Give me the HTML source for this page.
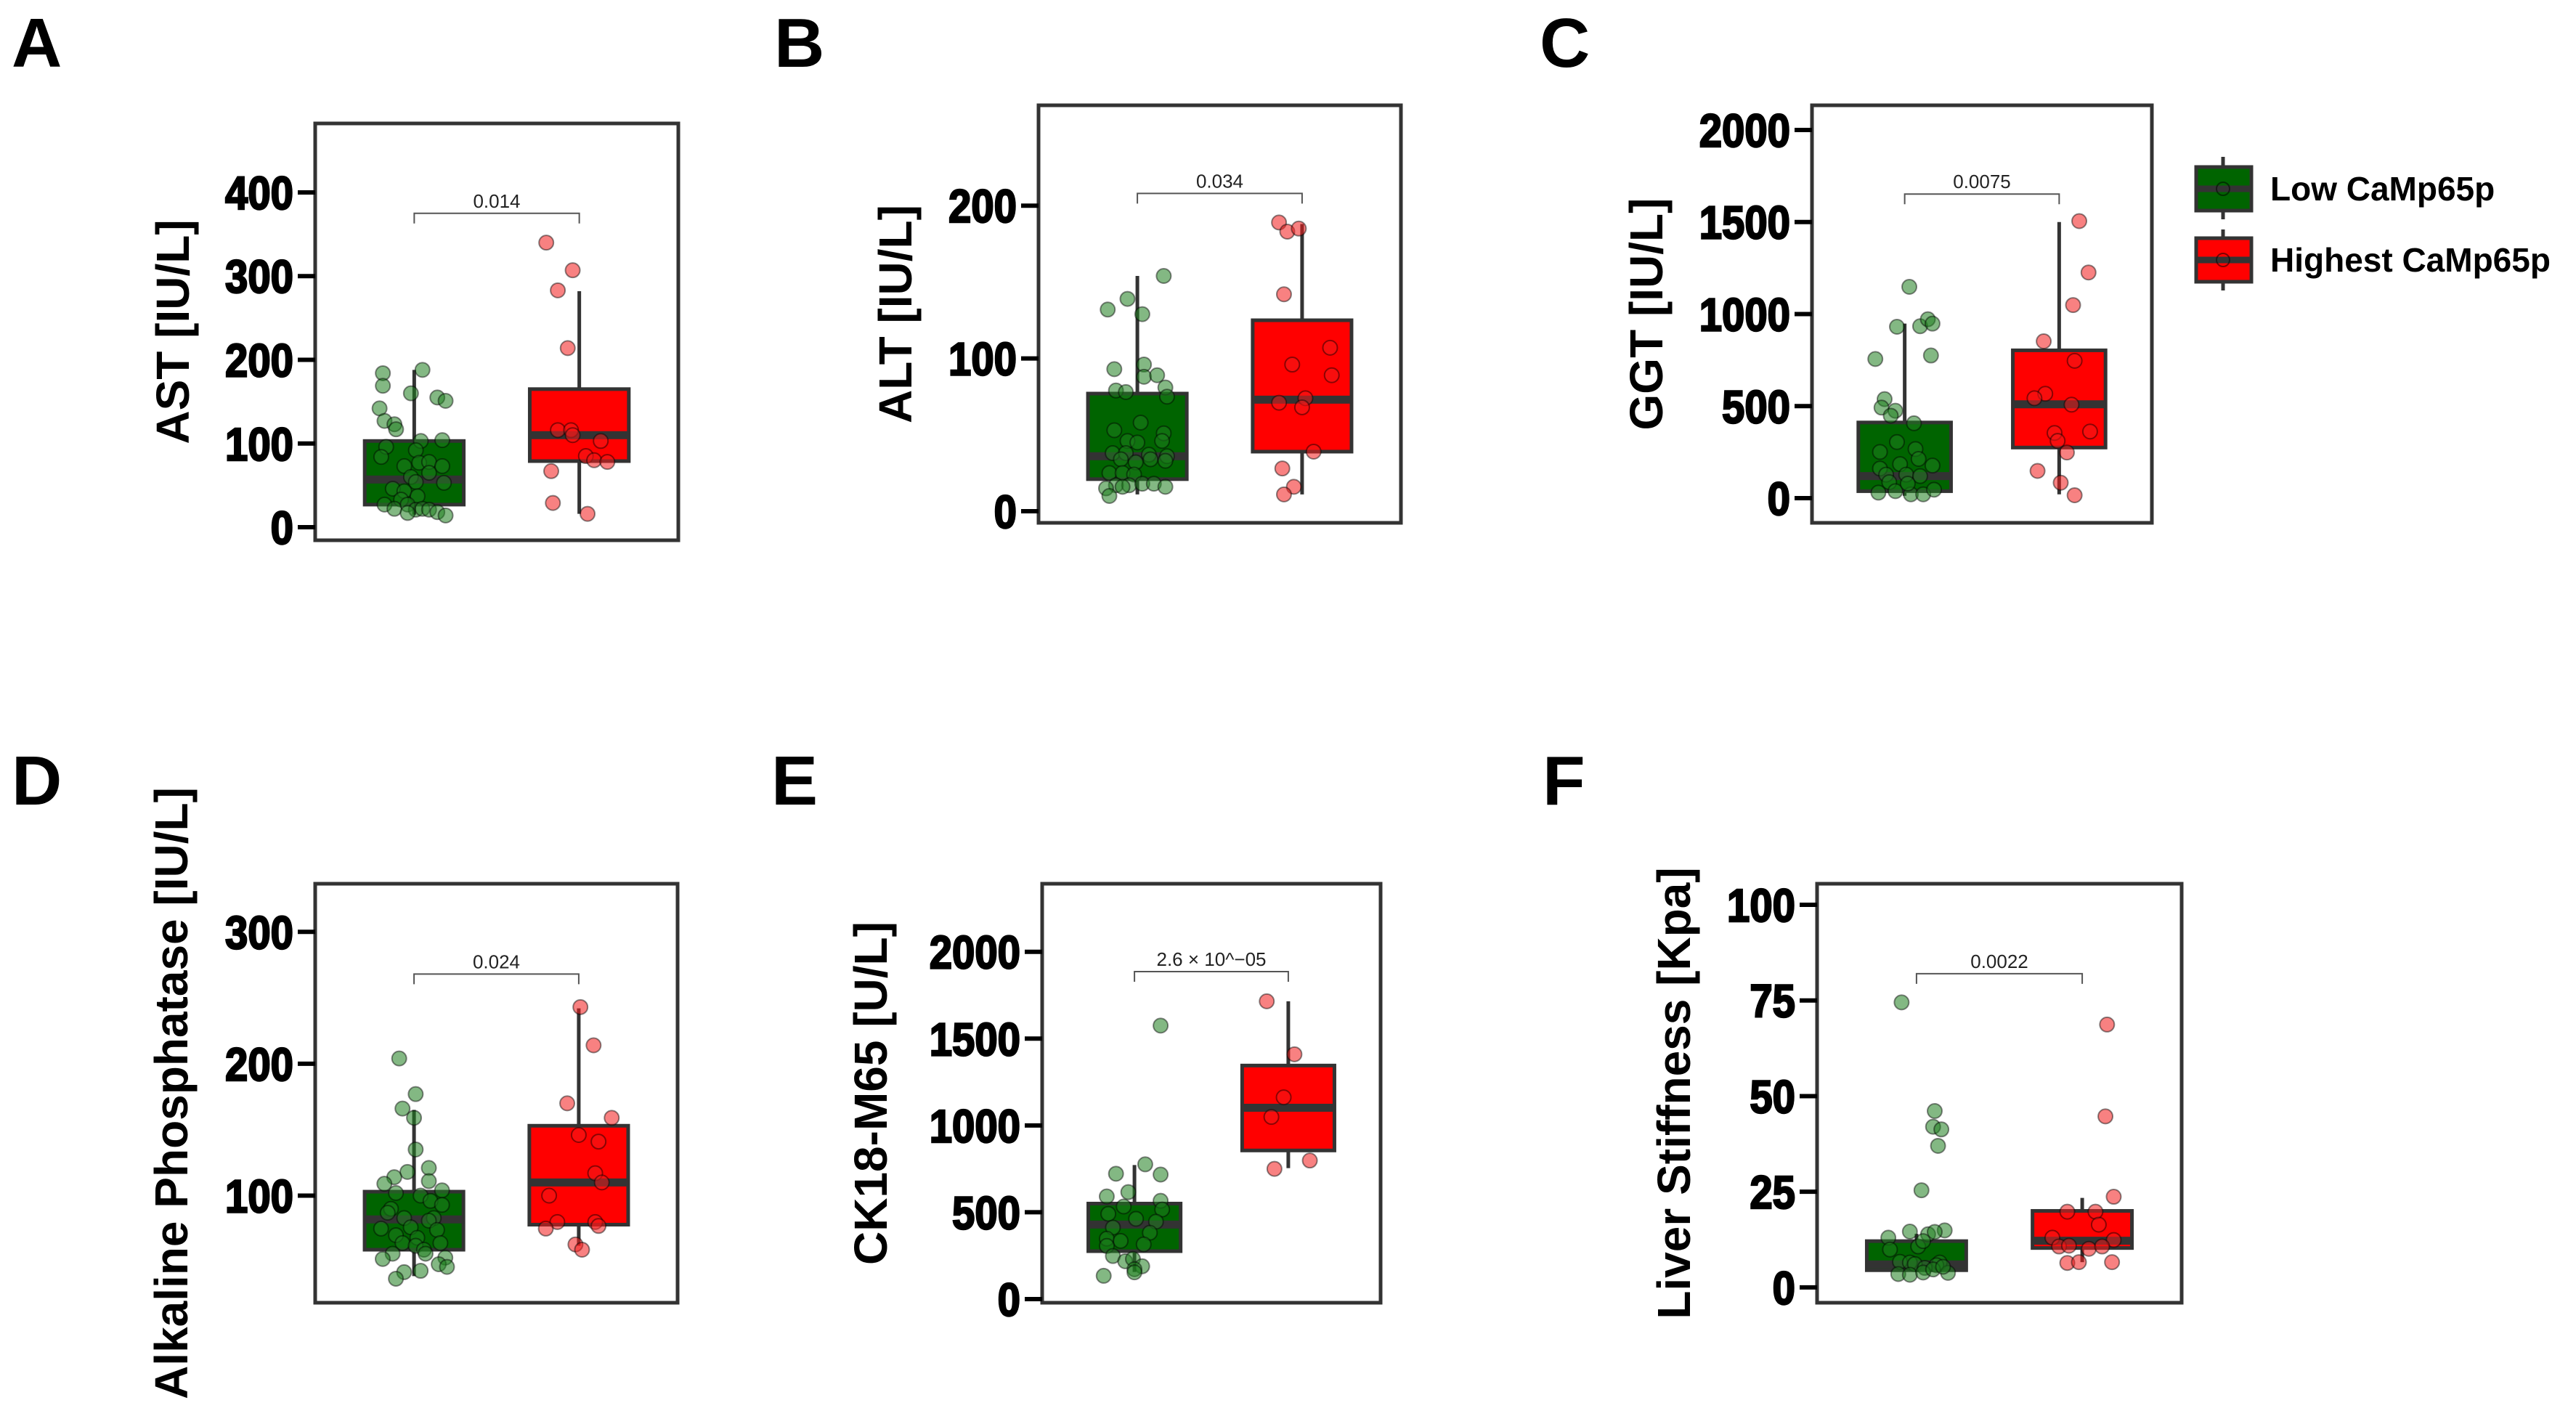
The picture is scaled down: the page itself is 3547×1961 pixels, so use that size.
<!DOCTYPE html>
<html><head><meta charset="utf-8"><style>
html,body{margin:0;padding:0;background:#fff;}
svg{display:block;font-family:"Liberation Sans",Arial,sans-serif;}
</style></head><body>
<svg id="fig" width="3547" height="1961" viewBox="0 0 3547 1961" xmlns="http://www.w3.org/2000/svg">
<rect width="3547" height="1961" fill="#fff"/>
<g>
  <g>
    <line x1="3061" y1="216" x2="3061" y2="302" stroke="#333" stroke-width="5"/>
    <rect x="3024" y="230" width="76" height="60" fill="#006400" stroke="#333" stroke-width="5"/>
    <line x1="3024" y1="260" x2="3100" y2="260" stroke="#333" stroke-width="9"/>
    <circle cx="3061" cy="260" r="9" fill="none" stroke="#000" stroke-opacity="0.5" stroke-width="2"/>
    <text x="3126" y="276" font-size="46" font-weight="bold" fill="#000">Low CaMp65p</text>
  </g>
  <g>
    <line x1="3061" y1="316" x2="3061" y2="400" stroke="#333" stroke-width="5"/>
    <rect x="3024" y="328" width="76" height="60" fill="#ff0000" stroke="#333" stroke-width="5"/>
    <line x1="3024" y1="358" x2="3100" y2="358" stroke="#333" stroke-width="9"/>
    <circle cx="3061" cy="358" r="9" fill="none" stroke="#000" stroke-opacity="0.5" stroke-width="2"/>
    <text x="3126" y="374" font-size="46" font-weight="bold" fill="#000">Highest CaMp65p</text>
  </g>
</g>
</svg>
<script>
const categories = ["Low CaMp65p", "Highest CaMp65p"];

// Panel A: AST
const astTicks = [0, 100, 200, 300, 400];
const astLowValues = [184,188,169,160,155,151,142,127,123,117,103,104,96,84,92,73,77,78,73,65,60,54,53,46,43,37,33,27,22,27,21,22,21,17,18,14];
const astLowJitter = [-0.19,0.05,-0.19,-0.02,0.14,0.19,-0.21,-0.18,-0.12,-0.11,0.04,0.17,-0.17,-0.2,0.01,-0.06,0.03,0.09,0.17,0.09,-0.02,0.01,0.18,-0.13,-0.06,0.02,-0.08,-0.18,-0.12,-0.04,0.01,0.05,0.09,-0.04,0.14,0.19];
const astHighValues = [340,307,283,214,116,116,110,103,85,80,78,67,29,16];
const astHighJitter = [-0.2,-0.04,-0.13,-0.07,-0.13,-0.05,-0.04,0.13,0.04,0.09,0.17,-0.17,-0.16,0.05];
const astLowStats = [27,57,103,15,188];
const astHighStats = [79,110,165,16,282];
const astPValue = "0.014";
const astBracket = 375;

// Panel B: ALT
const altTicks = [0, 100, 200];
const altLowValues = [154,139,132,129,96,93,88,89,79,78,81,75,58,53,51,46,45,46,38,38,37,36,34,32,34,33,25,25,24,17,17,18,18,16,15,10,16];
const altLowJitter = [0.16,-0.06,-0.18,0.03,0.04,-0.14,0.04,0.12,-0.13,-0.07,0.17,0.18,0.02,-0.14,0.16,-0.06,0,0.15,-0.15,-0.07,0.07,0.18,-0.1,-0.01,0.08,0.17,-0.17,-0.09,-0.02,-0.13,-0.05,0.03,0.1,0.17,-0.19,-0.17,-0.09];
const altHighValues = [189,183,185,142,107,96,89,74,71,68,39,28,16,11];
const altHighJitter = [-0.14,-0.09,-0.02,-0.11,0.17,-0.06,0.18,0.02,-0.14,0,0.07,-0.12,-0.05,-0.11];
const altLowStats = [21,36,77,11,154];
const altHighStats = [39,73,125,11,188];
const altPValue = "0.034";
const altBracket = 208;

// Panel C: GGT
const ggtTicks = [0, 500, 1000, 1500, 2000];
const ggtLowValues = [1148,931,934,972,948,756,775,538,492,475,448,407,305,251,267,213,185,177,161,128,128,120,87,30,38,21,21,46,79];
const ggtLowJitter = [0.03,-0.05,0.1,0.15,0.18,-0.19,0.17,-0.13,-0.15,-0.06,-0.09,0.06,-0.05,-0.16,0.07,0.09,-0.03,0.18,-0.16,-0.12,0.01,0.1,-0.1,-0.17,-0.06,0.04,0.12,0.19,0.02];
const ggtHighValues = [1505,1226,1049,852,746,567,543,508,362,354,311,248,148,84,16];
const ggtHighJitter = [0.13,0.19,0.09,-0.1,0.1,-0.09,-0.16,0.08,0.2,-0.03,-0.01,0.05,-0.14,0.01,0.1];
const ggtLowStats = [38,120,411,13,948];
const ggtHighStats = [275,510,803,21,1500];
const ggtPValue = "0.0075";
const ggtBracket = 1652;

// Panel D: Alkaline Phosphatase
const alpTicks = [100, 200, 300];
const alpLowValues = [204,177,166,159,135,121,118,114,111,109,104,102,100,96,93,90,87,83,83,81,76,75,74,70,68,64,64,62,59,56,56,52,53,48,46,42,43,37];
const alpLowJitter = [-0.09,0.01,-0.07,0,0.01,0.09,-0.04,-0.12,0.09,-0.18,0.17,-0.11,0.04,0.1,0.17,-0.14,-0.16,-0.06,0.12,0.09,-0.02,-0.2,0.14,-0.11,0.02,-0.07,0.16,0.01,0.06,0.07,-0.13,-0.19,0.19,0.15,0.2,-0.06,0.04,-0.11];
const alpHighValues = [243,214,170,159,146,141,117,110,100,80,80,77,75,63,59];
const alpHighJitter = [0.01,0.09,-0.07,0.2,0,0.12,0.1,0.14,-0.18,-0.13,0.1,0.12,-0.2,-0.02,0.02];
const alpLowStats = [59,82,103,39,165];
const alpHighStats = [78,110,153,62,242];
const alpPValue = "0.024";
const alpBracket = 268;

// Panel E: CK18-M65
const ckTicks = [0, 500, 1000, 1500, 2000];
const ckLowValues = [1575,776,722,717,616,591,566,533,516,491,462,446,412,382,348,335,315,306,248,218,231,189,172,134,154];
const ckLowJitter = [0.17,0.07,-0.12,0.17,-0.04,-0.18,0.17,-0.07,0.18,-0.17,0.01,0.14,-0.14,0.1,-0.18,-0.09,0.06,-0.18,-0.14,-0.06,-0.01,0.05,0,-0.2,0];
const ckHighValues = [1715,1410,1162,1049,798,750];
const ckHighJitter = [-0.14,0.04,-0.03,-0.11,0.14,-0.09];
const ckLowStats = [276,429,550,156,772];
const ckHighStats = [856,1102,1345,754,1715];
const ckPValue = "2.6 \u00d7 10^\u221205";
const ckBracket = 1886;

// Panel F: Liver stiffness
const lsTicks = [0, 25, 50, 75, 100];
const lsLowValues = [74.5,46.1,42,41.3,37,25.4,14.6,14.9,13,13.9,14.5,10.7,9.9,12.1,6.7,6.5,6.1,6.5,5.8,5.1,3.5,3.3,3.9,3.8,4.7,5.4];
const lsLowJitter = [-0.09,0.11,0.1,0.15,0.13,0.03,-0.04,0.17,-0.17,0.07,0.11,0.01,-0.16,0.04,-0.1,-0.04,-0.01,0.14,0.12,0.05,-0.11,-0.04,0.04,0.19,0.1,0.16];
const lsHighValues = [68.7,44.7,23.7,19.8,19.8,16.4,13,12.4,10.7,10.9,10.1,10.7,6.4,6.6,6.6];
const lsHighJitter = [0.15,0.14,0.19,-0.09,0.08,0.1,-0.18,0.19,-0.14,-0.08,0.04,0.12,-0.09,-0.02,0.18];
const lsLowStats = [4.5,6,12.1,4,14];
const lsHighStats = [10.3,12.2,20,6.6,23.4];
const lsPValue = "0.0022";
const lsBracket = 82;

const NS = "http://www.w3.org/2000/svg";
const svg = document.getElementById("fig");
function mk(tag, attrs, parent) {
  const e = document.createElementNS(NS, tag);
  for (const k in attrs) e.setAttribute(k, attrs[k]);
  (parent || svg).appendChild(e);
  return e;
}

function drawPanel(p) {
  const g = mk("g", {});
  
  
  const L = p.box[0], R = p.box[1], T = p.box[2], B = p.box[3];
  const y = v => B - (v - p.domain[0]) / (p.domain[1] - p.domain[0]) * (B - T);
  const x = c => L + (c + 0.6) / 2.2 * (R - L);
  const bw = 0.6 / 2.2 * (R - L);
  const unit = (R - L) / 2.2;

  const letter = mk("text", {x: p.letter[1], y: p.letter[2], "font-size": 96, "font-weight": "bold", fill: "#000"}, g);
  letter.textContent = p.letter[0];
  
  

  const frame = mk("rect", {x: L, y: T, width: R - L, height: B - T, fill: "#fff", stroke: "#333", "stroke-width": 5}, g);
  
  

  p.ticks.forEach(t => {
    const ty = y(t);
    const tk = mk("line", {x1: L - 24, x2: L, y1: ty, y2: ty, stroke: "#000", "stroke-width": 6}, g);
    
    
    const tl = mk("text", {x: 0, y: 0, transform: "translate(" + (L - 30) + " " + (ty + 23) + ") scale(0.88 1)", "text-anchor": "end", "font-size": 64, "font-weight": "bold", fill: "#000", stroke: "#000", "stroke-width": 2.5}, g);
    tl.textContent = t;
    
    
  });

  const cy = (T + B) / 2;
  const title = mk("text", {x: p.titleX, y: cy, "text-anchor": "middle", "font-size": 64, "font-weight": "bold", fill: "#000", transform: "rotate(-90 " + p.titleX + " " + cy + ")", "dominant-baseline": "central"}, g);
  title.textContent = p.title;
  
  

  const fills = ["#006400", "#ff0000"];
  const ptFill = ["#1e7d1e", "#f21a1a"];
  const names = ["low", "highest"];
  [p.lowStats, p.highStats].forEach((s, i) => {
    const cx = x(i);
    const bg = mk("g", {}, g);
    
    
    mk("line", {x1: cx, x2: cx, y1: y(s[4]), y2: y(s[3]), stroke: "#333", "stroke-width": 5}, bg);
    mk("rect", {x: cx - bw / 2, y: y(s[2]), width: bw, height: y(s[0]) - y(s[2]), fill: fills[i], stroke: "#333", "stroke-width": 5}, bg);
    mk("line", {x1: cx - bw / 2, x2: cx + bw / 2, y1: y(s[1]), y2: y(s[1]), stroke: "#333", "stroke-width": 11}, bg);
  });
  [[p.lowValues, p.lowJitter], [p.highValues, p.highJitter]].forEach((d, i) => {
    d[0].forEach((v, k) => {
      const c = mk("circle", {cx: x(i) + d[1][k] * unit, cy: y(v), r: 10, fill: ptFill[i], "fill-opacity": 0.55, stroke: "#000", "stroke-opacity": 0.45, "stroke-width": 2}, g);
      
      
    });
  });

  const by = y(p.bracket);
  const br = mk("path", {d: "M" + x(0) + " " + (by + 14) + "V" + by + "H" + x(1) + "V" + (by + 14), fill: "none", stroke: "#555", "stroke-width": 2}, g);
  
  
  const pt = mk("text", {x: (x(0) + x(1)) / 2, y: by - 8, "text-anchor": "middle", "font-size": 26, fill: "#222"}, g);
  pt.textContent = p.pValue;
  
  
}

drawPanel({id: "a-ast", letter: ["A", 16, 92], box: [434, 934, 170, 744], domain: [-15.6, 482.4], titleX: 238, title: "AST [IU/L]",
  ticks: astTicks, lowValues: astLowValues, lowJitter: astLowJitter, highValues: astHighValues, highJitter: astHighJitter,
  lowStats: astLowStats, highStats: astHighStats, pValue: astPValue, bracket: astBracket});
drawPanel({id: "b-alt", letter: ["B", 1066, 92], box: [1430, 1929, 145, 720], domain: [-7.6, 265.7], titleX: 1233, title: "ALT [IU/L]",
  ticks: altTicks, lowValues: altLowValues, lowJitter: altLowJitter, highValues: altHighValues, highJitter: altHighJitter,
  lowStats: altLowStats, highStats: altHighStats, pValue: altPValue, bracket: altBracket});
drawPanel({id: "c-ggt", letter: ["C", 2120, 92], box: [2495, 2963, 145, 720], domain: [-134, 2134], titleX: 2267, title: "GGT [IU/L]",
  ticks: ggtTicks, lowValues: ggtLowValues, lowJitter: ggtLowJitter, highValues: ggtHighValues, highJitter: ggtHighJitter,
  lowStats: ggtLowStats, highStats: ggtHighStats, pValue: ggtPValue, bracket: ggtBracket});
drawPanel({id: "d-alp", letter: ["D", 16, 1108], box: [434, 933, 1217, 1794], domain: [18.8, 336.5], titleX: 236, title: "Alkaline Phosphatase [IU/L]",
  ticks: alpTicks, lowValues: alpLowValues, lowJitter: alpLowJitter, highValues: alpHighValues, highJitter: alpHighJitter,
  lowStats: alpLowStats, highStats: alpHighStats, pValue: alpPValue, bracket: alpBracket});
drawPanel({id: "e-ck18", letter: ["E", 1062, 1108], box: [1435, 1901, 1217, 1794], domain: [-21, 2392], titleX: 1199, title: "CK18-M65 [U/L]",
  ticks: ckTicks, lowValues: ckLowValues, lowJitter: ckLowJitter, highValues: ckHighValues, highJitter: ckHighJitter,
  lowStats: ckLowStats, highStats: ckHighStats, pValue: ckPValue, bracket: ckBracket});
drawPanel({id: "f-stiffness", letter: ["F", 2124, 1108], box: [2502, 3004, 1217, 1794], domain: [-4.0, 105.5], titleX: 2305, title: "Liver Stiffness [Kpa]",
  ticks: lsTicks, lowValues: lsLowValues, lowJitter: lsLowJitter, highValues: lsHighValues, highJitter: lsHighJitter,
  lowStats: lsLowStats, highStats: lsHighStats, pValue: lsPValue, bracket: lsBracket});
</script>
</body></html>
